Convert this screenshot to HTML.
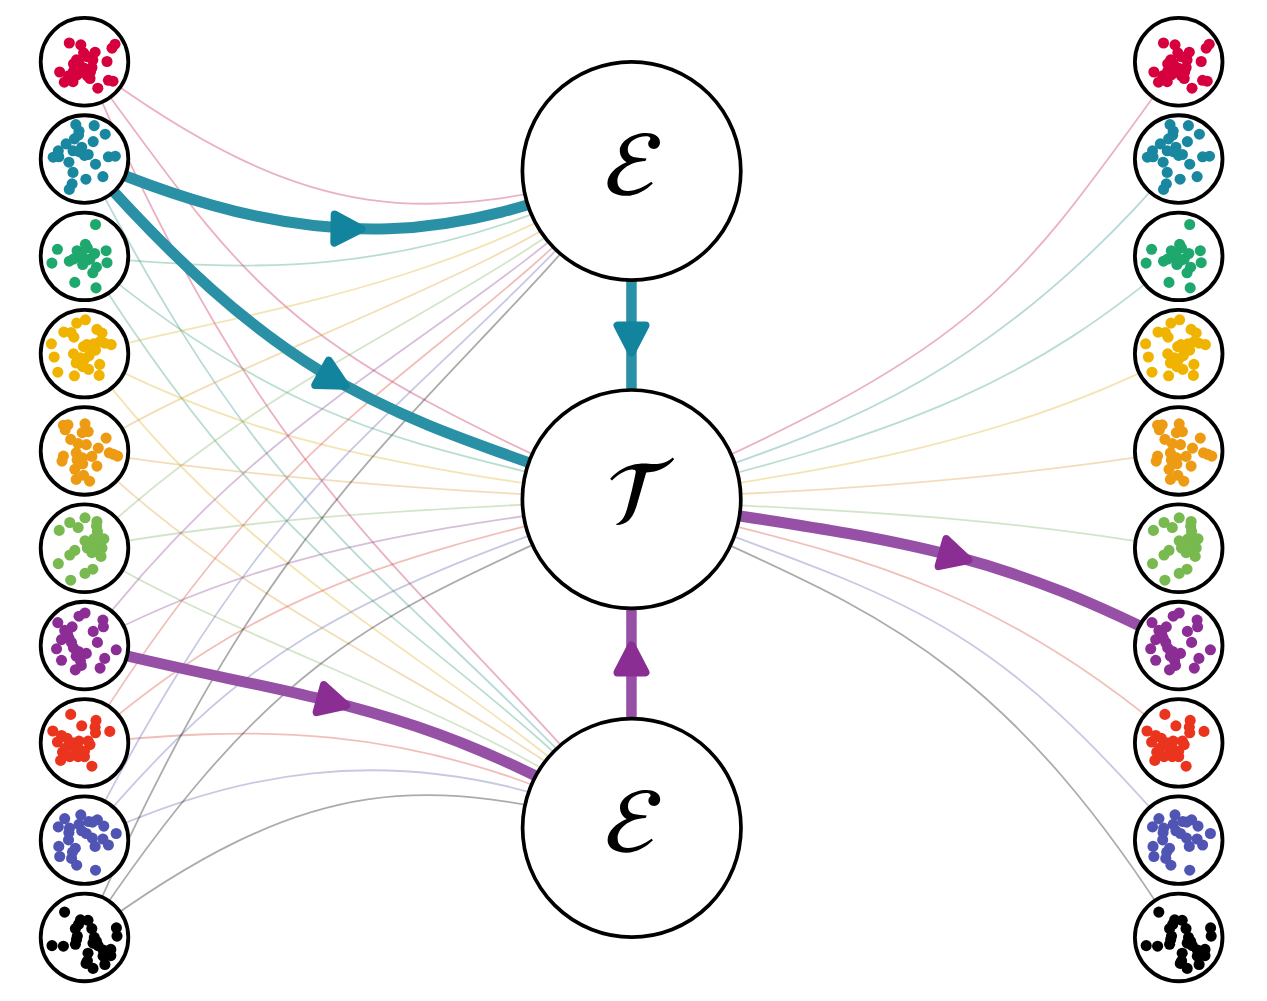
<!DOCTYPE html>
<html><head><meta charset="utf-8"><style>
html,body{margin:0;padding:0;background:#fff;width:1267px;height:1001px;overflow:hidden;font-family:"Liberation Sans",sans-serif;}
svg{display:block;}
</style></head><body>
<svg width="1267" height="1001" viewBox="0 0 1267 1001"><rect width="1267" height="1001" fill="#fff"/><g fill="none" stroke-width="1.8" stroke-opacity="0.33"><path d="M84.5,61.8 C314.8,232.9 426.8,221.7 631.6,171.0" stroke="#c01144"/><path d="M84.5,61.8 C276.3,511.3 422.9,572.8 631.8,827.9" stroke="#c01144"/><path d="M84.5,61.8 C255.5,295.7 276.7,342.6 631.6,499.2" stroke="#c01144"/><path d="M631.6,499.2 C986.5,344.1 1010.7,294.1 1178.7,61.8" stroke="#c01144"/><path d="M84.5,159.1 C284.7,546.8 378.0,552.2 631.8,827.9" stroke="#288c88"/><path d="M631.6,499.2 C801.7,437.6 975.5,400.3 1178.7,159.1" stroke="#288c88"/><path d="M84.5,256.4 C232.0,269.2 401.9,286.3 631.6,171.0" stroke="#2b9c6d"/><path d="M84.5,256.4 C302.0,603.2 424.1,612.6 631.8,827.9" stroke="#2b9c6d"/><path d="M84.5,256.4 C306.8,443.1 435.0,443.2 631.6,499.2" stroke="#2b9c6d"/><path d="M631.6,499.2 C916.0,431.8 1034.7,378.5 1178.7,256.4" stroke="#2b9c6d"/><path d="M84.5,353.6 C231.5,314.2 434.5,293.5 631.6,171.0" stroke="#dead19"/><path d="M84.5,353.6 C265.1,593.2 441.3,651.5 631.8,827.9" stroke="#dead19"/><path d="M84.5,353.6 C264.0,445.3 383.5,463.0 631.6,499.2" stroke="#dead19"/><path d="M631.6,499.2 C837.6,469.3 1015.5,439.8 1178.7,353.6" stroke="#dead19"/><path d="M84.5,450.9 C234.5,356.6 496.5,280.7 631.6,171.0" stroke="#dc9829"/><path d="M84.5,450.9 C273.2,633.1 485.0,696.6 631.8,827.9" stroke="#dc9829"/><path d="M84.5,450.9 C218.5,474.3 460.3,493.1 631.6,499.2" stroke="#dc9829"/><path d="M631.6,499.2 C797.5,491.9 974.7,483.6 1178.7,450.9" stroke="#dc9829"/><path d="M84.5,548.2 C273.2,365.9 485.0,302.4 631.6,171.0" stroke="#7aaf59"/><path d="M84.5,548.2 C234.5,642.4 496.5,718.3 631.8,827.9" stroke="#7aaf59"/><path d="M84.5,548.2 C279.4,512.1 477.5,507.9 631.6,499.2" stroke="#7aaf59"/><path d="M631.6,499.2 C814.5,510.8 963.6,511.2 1178.7,548.2" stroke="#7aaf59"/><path d="M84.5,645.5 C265.1,405.8 441.3,347.5 631.6,171.0" stroke="#87398f"/><path d="M84.5,645.5 C293.8,533.6 481.0,526.5 631.6,499.2" stroke="#87398f"/><path d="M84.5,742.9 C302.0,395.8 424.1,386.4 631.6,171.0" stroke="#d43e2c"/><path d="M84.5,742.9 C232.0,729.8 401.9,712.7 631.8,827.9" stroke="#d43e2c"/><path d="M84.5,742.9 C267.8,584.7 394.1,559.3 631.6,499.2" stroke="#d43e2c"/><path d="M631.6,499.2 C796.8,546.7 968.8,561.3 1178.7,742.9" stroke="#d43e2c"/><path d="M84.5,840.1 C284.7,452.2 378.0,446.8 631.6,171.0" stroke="#565aa8"/><path d="M84.5,840.1 C210.7,785.0 384.0,721.1 631.8,827.9" stroke="#565aa8"/><path d="M84.5,840.1 C244.3,650.6 334.3,601.8 631.6,499.2" stroke="#565aa8"/><path d="M631.6,499.2 C922.9,605.8 985.1,617.5 1178.7,840.1" stroke="#565aa8"/><path d="M84.5,937.4 C276.3,487.7 422.9,426.2 631.6,171.0" stroke="#000000"/><path d="M84.5,937.4 C314.8,766.1 426.8,777.3 631.8,827.9" stroke="#000000"/><path d="M84.5,937.4 C283.7,636.5 389.4,612.9 631.6,499.2" stroke="#000000"/><path d="M631.6,499.2 C848.0,605.7 984.8,628.2 1178.7,937.4" stroke="#000000"/></g><path d="M84.5,159.1 C357.6,277.3 482.6,220.7 631.6,171.0" fill="none" stroke="#2a90a6" stroke-width="11"/><path d="M84.5,159.1 C299.4,403.5 398.1,413.8 631.6,499.2" fill="none" stroke="#2a90a6" stroke-width="11"/><path d="M84.5,645.5 C295.8,699.8 410.2,696.2 631.8,827.9" fill="none" stroke="#9650a6" stroke-width="11"/><path d="M1178.7,645.5 C982.5,544.3 888.9,539.9 631.6,499.2" fill="none" stroke="#9650a6" stroke-width="11"/><polygon points="361.5,229.0 334.3,242.6 334.7,214.6" fill="#13849d" stroke="#13849d" stroke-width="8" stroke-linejoin="round"/><polygon points="345.7,385.8 315.2,385.1 328.7,360.6" fill="#13849d" stroke="#13849d" stroke-width="8" stroke-linejoin="round"/><polygon points="346.3,705.5 316.6,712.1 323.9,685.1" fill="#8a2e93" stroke="#8a2e93" stroke-width="8" stroke-linejoin="round"/><polygon points="968.4,560.0 938.6,566.1 946.3,539.2" fill="#8a2e93" stroke="#8a2e93" stroke-width="8" stroke-linejoin="round"/><rect x="626.2" y="270" width="10.5" height="130" fill="#2a90a6"/><rect x="626.2" y="600" width="10.5" height="130" fill="#9650a6"/><polygon points="631.5,352.5 617.5,325.5 645.5,325.5" fill="#13849d" stroke="#13849d" stroke-width="8" stroke-linejoin="round"/><polygon points="631.5,645.4 645.5,672.4 617.5,672.4" fill="#8a2e93" stroke="#8a2e93" stroke-width="8" stroke-linejoin="round"/><circle cx="631.6" cy="171.0" r="109.2" fill="#fff" stroke="#000" stroke-width="3.7"/><path transform="translate(595.0,125.0) scale(0.08)" d="M735,300 C790,300 815,250 812,210 C808,140 730,100 640,100 C480,100 310,200 310,320 C310,390 350,440 395,465 C260,520 155,620 155,730 C155,830 260,885 390,885 C520,885 640,810 722,730 L705,710 C620,770 510,825 410,825 C320,825 280,770 280,700 C280,580 420,460 630,450 L645,420 C600,415 530,410 480,400 C420,380 410,340 410,300 C410,210 520,140 640,140 C680,140 700,160 690,180 C670,200 665,215 665,235 C665,275 700,300 735,300 Z" fill="#000"/><circle cx="631.6" cy="499.2" r="109.2" fill="#fff" stroke="#000" stroke-width="3.7"/><path transform="translate(595.0,450.0) scale(0.0799)" d="M190,360 C280,260 400,185 560,172 C640,165 700,180 780,175 C860,170 920,140 975,95 L990,115 C920,200 820,260 700,275 C670,278 650,280 640,285 C600,420 560,570 520,700 C470,860 400,935 270,940 L265,925 C330,900 370,840 400,740 C440,600 480,440 510,280 C515,252 495,242 455,244 C365,257 285,312 212,382 Z" fill="#000"/><circle cx="631.8" cy="827.9" r="109.2" fill="#fff" stroke="#000" stroke-width="3.7"/><path transform="translate(595.2,781.9) scale(0.08)" d="M735,300 C790,300 815,250 812,210 C808,140 730,100 640,100 C480,100 310,200 310,320 C310,390 350,440 395,465 C260,520 155,620 155,730 C155,830 260,885 390,885 C520,885 640,810 722,730 L705,710 C620,770 510,825 410,825 C320,825 280,770 280,700 C280,580 420,460 630,450 L645,420 C600,415 530,410 480,400 C420,380 410,340 410,300 C410,210 520,140 640,140 C680,140 700,160 690,180 C670,200 665,215 665,235 C665,275 700,300 735,300 Z" fill="#000"/><circle cx="84.5" cy="61.75" r="43.8" fill="#fff" stroke="#000" stroke-width="3.8"/><g fill="#d6003f"><circle cx="69.3" cy="43.0" r="5.55"/><circle cx="80.8" cy="44.9" r="5.55"/><circle cx="83.6" cy="52.8" r="5.55"/><circle cx="95.1" cy="52.2" r="5.55"/><circle cx="112.0" cy="48.2" r="5.55"/><circle cx="115.0" cy="44.2" r="5.55"/><circle cx="107.0" cy="61.5" r="5.55"/><circle cx="73.5" cy="63.8" r="5.55"/><circle cx="79.0" cy="62.9" r="5.55"/><circle cx="92.8" cy="60.0" r="5.55"/><circle cx="91.9" cy="67.5" r="5.55"/><circle cx="59.7" cy="72.0" r="5.55"/><circle cx="64.3" cy="82.2" r="5.55"/><circle cx="73.0" cy="81.7" r="5.55"/><circle cx="77.1" cy="74.8" r="5.55"/><circle cx="87.3" cy="75.8" r="5.55"/><circle cx="90.0" cy="78.5" r="5.55"/><circle cx="97.8" cy="88.2" r="5.55"/><circle cx="108.4" cy="80.3" r="5.55"/><circle cx="113.0" cy="81.2" r="5.55"/><circle cx="73.5" cy="71.2" r="5.55"/><circle cx="84.5" cy="68.3" r="5.55"/><circle cx="76.5" cy="59.8" r="5.55"/><circle cx="87.5" cy="56.8" r="5.55"/><circle cx="81.5" cy="71.8" r="5.55"/><circle cx="90.5" cy="71.8" r="5.55"/><circle cx="68.5" cy="75.8" r="5.55"/></g><circle cx="84.5" cy="159.05" r="43.8" fill="#fff" stroke="#000" stroke-width="3.8"/><g fill="#18879f"><circle cx="75.8" cy="124.6" r="5.55"/><circle cx="79.0" cy="131.1" r="5.55"/><circle cx="94.2" cy="125.6" r="5.55"/><circle cx="105.2" cy="134.2" r="5.55"/><circle cx="74.4" cy="138.9" r="5.55"/><circle cx="93.2" cy="141.6" r="5.55"/><circle cx="66.1" cy="143.9" r="5.55"/><circle cx="58.3" cy="150.8" r="5.55"/><circle cx="53.2" cy="157.2" r="5.55"/><circle cx="58.8" cy="156.8" r="5.55"/><circle cx="73.0" cy="150.8" r="5.55"/><circle cx="81.7" cy="147.2" r="5.55"/><circle cx="84.5" cy="155.4" r="5.55"/><circle cx="88.2" cy="154.5" r="5.55"/><circle cx="108.4" cy="156.8" r="5.55"/><circle cx="115.3" cy="156.2" r="5.55"/><circle cx="68.9" cy="162.2" r="5.55"/><circle cx="95.5" cy="164.2" r="5.55"/><circle cx="73.0" cy="172.4" r="5.55"/><circle cx="85.9" cy="179.2" r="5.55"/><circle cx="102.9" cy="176.6" r="5.55"/><circle cx="72.1" cy="183.9" r="5.55"/><circle cx="69.3" cy="189.4" r="5.55"/><circle cx="79.0" cy="151.7" r="5.55"/><circle cx="78.5" cy="135.1" r="5.55"/></g><circle cx="84.5" cy="256.35" r="43.8" fill="#fff" stroke="#000" stroke-width="3.8"/><g fill="#1ea86e"><circle cx="95.5" cy="224.5" r="5.55"/><circle cx="57.4" cy="249.3" r="5.55"/><circle cx="51.9" cy="263.1" r="5.55"/><circle cx="69.3" cy="261.2" r="5.55"/><circle cx="77.1" cy="250.7" r="5.55"/><circle cx="85.4" cy="244.3" r="5.55"/><circle cx="87.3" cy="247.9" r="5.55"/><circle cx="82.7" cy="264.5" r="5.55"/><circle cx="79.9" cy="257.1" r="5.55"/><circle cx="94.6" cy="253.5" r="5.55"/><circle cx="90.0" cy="259.0" r="5.55"/><circle cx="106.1" cy="250.7" r="5.55"/><circle cx="107.0" cy="262.7" r="5.55"/><circle cx="96.4" cy="267.2" r="5.55"/><circle cx="92.8" cy="272.8" r="5.55"/><circle cx="74.8" cy="282.4" r="5.55"/><circle cx="96.0" cy="287.9" r="5.55"/><circle cx="73.5" cy="259.0" r="5.55"/><circle cx="81.5" cy="254.4" r="5.55"/><circle cx="86.5" cy="260.4" r="5.55"/></g><circle cx="84.5" cy="353.65" r="43.8" fill="#fff" stroke="#000" stroke-width="3.8"/><g fill="#f0b400"><circle cx="85.4" cy="319.8" r="5.55"/><circle cx="76.7" cy="323.1" r="5.55"/><circle cx="63.8" cy="332.1" r="5.55"/><circle cx="71.2" cy="332.6" r="5.55"/><circle cx="73.9" cy="337.2" r="5.55"/><circle cx="96.9" cy="329.4" r="5.55"/><circle cx="102.0" cy="333.1" r="5.55"/><circle cx="51.4" cy="343.8" r="5.55"/><circle cx="86.8" cy="344.6" r="5.55"/><circle cx="93.7" cy="343.8" r="5.55"/><circle cx="99.7" cy="341.8" r="5.55"/><circle cx="111.2" cy="344.6" r="5.55"/><circle cx="95.5" cy="350.1" r="5.55"/><circle cx="89.1" cy="355.6" r="5.55"/><circle cx="73.5" cy="353.8" r="5.55"/><circle cx="54.2" cy="357.0" r="5.55"/><circle cx="76.2" cy="363.0" r="5.55"/><circle cx="82.7" cy="366.6" r="5.55"/><circle cx="88.6" cy="369.4" r="5.55"/><circle cx="99.7" cy="364.4" r="5.55"/><circle cx="99.2" cy="375.4" r="5.55"/><circle cx="57.8" cy="372.2" r="5.55"/><circle cx="74.4" cy="375.8" r="5.55"/><circle cx="90.5" cy="349.6" r="5.55"/><circle cx="83.5" cy="346.6" r="5.55"/><circle cx="104.7" cy="343.2" r="5.55"/><circle cx="84.5" cy="359.3" r="5.55"/><circle cx="80.4" cy="357.9" r="5.55"/></g><circle cx="84.5" cy="450.95" r="43.8" fill="#fff" stroke="#000" stroke-width="3.8"/><g fill="#ee9b14"><circle cx="63.4" cy="425.2" r="5.55"/><circle cx="68.0" cy="424.8" r="5.55"/><circle cx="65.2" cy="429.8" r="5.55"/><circle cx="85.0" cy="423.8" r="5.55"/><circle cx="82.2" cy="432.6" r="5.55"/><circle cx="88.2" cy="431.6" r="5.55"/><circle cx="70.7" cy="439.4" r="5.55"/><circle cx="78.1" cy="443.6" r="5.55"/><circle cx="86.3" cy="444.6" r="5.55"/><circle cx="106.1" cy="438.1" r="5.55"/><circle cx="98.3" cy="448.1" r="5.55"/><circle cx="109.3" cy="452.8" r="5.55"/><circle cx="117.6" cy="456.1" r="5.55"/><circle cx="76.2" cy="452.8" r="5.55"/><circle cx="91.9" cy="456.4" r="5.55"/><circle cx="63.4" cy="456.1" r="5.55"/><circle cx="62.0" cy="461.1" r="5.55"/><circle cx="77.1" cy="460.1" r="5.55"/><circle cx="82.7" cy="463.8" r="5.55"/><circle cx="96.9" cy="466.1" r="5.55"/><circle cx="74.8" cy="469.3" r="5.55"/><circle cx="76.2" cy="479.4" r="5.55"/><circle cx="83.6" cy="475.3" r="5.55"/><circle cx="89.6" cy="481.2" r="5.55"/><circle cx="113.5" cy="454.4" r="5.55"/><circle cx="82.5" cy="457.9" r="5.55"/></g><circle cx="84.5" cy="548.25" r="43.8" fill="#fff" stroke="#000" stroke-width="3.8"/><g fill="#78b950"><circle cx="85.0" cy="517.8" r="5.55"/><circle cx="96.9" cy="521.5" r="5.55"/><circle cx="69.8" cy="522.5" r="5.55"/><circle cx="78.1" cy="527.5" r="5.55"/><circle cx="59.2" cy="530.4" r="5.55"/><circle cx="97.4" cy="531.5" r="5.55"/><circle cx="103.8" cy="538.9" r="5.55"/><circle cx="85.0" cy="540.8" r="5.55"/><circle cx="93.7" cy="538.9" r="5.55"/><circle cx="97.4" cy="543.5" r="5.55"/><circle cx="87.3" cy="548.0" r="5.55"/><circle cx="102.0" cy="548.0" r="5.55"/><circle cx="91.9" cy="552.6" r="5.55"/><circle cx="101.0" cy="556.4" r="5.55"/><circle cx="74.8" cy="550.4" r="5.55"/><circle cx="69.8" cy="555.0" r="5.55"/><circle cx="58.3" cy="563.6" r="5.55"/><circle cx="92.8" cy="569.2" r="5.55"/><circle cx="85.0" cy="573.4" r="5.55"/><circle cx="70.7" cy="580.2" r="5.55"/><circle cx="90.0" cy="543.5" r="5.55"/><circle cx="96.5" cy="526.2" r="5.55"/><circle cx="98.5" cy="550.2" r="5.55"/><circle cx="94.5" cy="548.2" r="5.55"/></g><circle cx="84.5" cy="645.55" r="43.8" fill="#fff" stroke="#000" stroke-width="3.8"/><g fill="#8c2d96"><circle cx="79.0" cy="616.2" r="5.55"/><circle cx="85.0" cy="613.0" r="5.55"/><circle cx="57.8" cy="622.6" r="5.55"/><circle cx="72.1" cy="626.8" r="5.55"/><circle cx="64.7" cy="630.4" r="5.55"/><circle cx="102.9" cy="620.1" r="5.55"/><circle cx="103.4" cy="626.8" r="5.55"/><circle cx="93.2" cy="631.4" r="5.55"/><circle cx="68.9" cy="637.8" r="5.55"/><circle cx="61.5" cy="639.6" r="5.55"/><circle cx="56.5" cy="648.8" r="5.55"/><circle cx="97.4" cy="642.4" r="5.55"/><circle cx="73.5" cy="647.9" r="5.55"/><circle cx="86.3" cy="653.4" r="5.55"/><circle cx="116.2" cy="649.8" r="5.55"/><circle cx="76.2" cy="656.2" r="5.55"/><circle cx="61.5" cy="660.3" r="5.55"/><circle cx="104.7" cy="658.4" r="5.55"/><circle cx="81.3" cy="665.4" r="5.55"/><circle cx="75.3" cy="669.9" r="5.55"/><circle cx="100.1" cy="668.1" r="5.55"/><circle cx="80.4" cy="660.6" r="5.55"/><circle cx="67.5" cy="633.5" r="5.55"/><circle cx="71.5" cy="642.5" r="5.55"/><circle cx="78.5" cy="651.5" r="5.55"/></g><circle cx="84.5" cy="742.85" r="43.8" fill="#fff" stroke="#000" stroke-width="3.8"/><g fill="#eb341e"><circle cx="70.7" cy="714.4" r="5.55"/><circle cx="96.0" cy="720.4" r="5.55"/><circle cx="81.7" cy="725.8" r="5.55"/><circle cx="95.1" cy="727.2" r="5.55"/><circle cx="95.5" cy="732.8" r="5.55"/><circle cx="109.8" cy="731.4" r="5.55"/><circle cx="52.8" cy="731.0" r="5.55"/><circle cx="61.5" cy="735.5" r="5.55"/><circle cx="67.0" cy="738.2" r="5.55"/><circle cx="57.4" cy="742.0" r="5.55"/><circle cx="79.0" cy="741.1" r="5.55"/><circle cx="88.2" cy="741.1" r="5.55"/><circle cx="90.0" cy="744.6" r="5.55"/><circle cx="65.2" cy="748.4" r="5.55"/><circle cx="75.3" cy="748.4" r="5.55"/><circle cx="84.5" cy="751.1" r="5.55"/><circle cx="60.6" cy="760.4" r="5.55"/><circle cx="69.8" cy="756.6" r="5.55"/><circle cx="78.1" cy="756.6" r="5.55"/><circle cx="84.5" cy="756.6" r="5.55"/><circle cx="91.9" cy="766.2" r="5.55"/><circle cx="62.5" cy="752.1" r="5.55"/><circle cx="72.5" cy="742.9" r="5.55"/><circle cx="78.5" cy="748.9" r="5.55"/></g><circle cx="84.5" cy="840.15" r="43.8" fill="#fff" stroke="#000" stroke-width="3.8"/><g fill="#5055b4"><circle cx="64.7" cy="818.6" r="5.55"/><circle cx="58.3" cy="826.9" r="5.55"/><circle cx="80.8" cy="814.8" r="5.55"/><circle cx="79.0" cy="824.4" r="5.55"/><circle cx="88.6" cy="821.5" r="5.55"/><circle cx="97.4" cy="819.8" r="5.55"/><circle cx="103.8" cy="826.1" r="5.55"/><circle cx="68.9" cy="832.6" r="5.55"/><circle cx="86.3" cy="833.5" r="5.55"/><circle cx="92.3" cy="838.1" r="5.55"/><circle cx="116.2" cy="833.5" r="5.55"/><circle cx="102.9" cy="839.0" r="5.55"/><circle cx="108.4" cy="845.0" r="5.55"/><circle cx="95.1" cy="846.4" r="5.55"/><circle cx="68.5" cy="839.9" r="5.55"/><circle cx="58.8" cy="846.4" r="5.55"/><circle cx="75.3" cy="848.2" r="5.55"/><circle cx="59.7" cy="856.5" r="5.55"/><circle cx="71.6" cy="858.4" r="5.55"/><circle cx="76.7" cy="865.2" r="5.55"/><circle cx="95.5" cy="870.2" r="5.55"/><circle cx="81.7" cy="830.8" r="5.55"/><circle cx="69.5" cy="828.1" r="5.55"/><circle cx="72.5" cy="852.1" r="5.55"/><circle cx="92.5" cy="822.1" r="5.55"/></g><circle cx="84.5" cy="937.45" r="43.8" fill="#fff" stroke="#000" stroke-width="3.8"/><g fill="#000000"><circle cx="64.6" cy="912.1" r="5.55"/><circle cx="80.5" cy="919.8" r="5.55"/><circle cx="88.0" cy="920.3" r="5.55"/><circle cx="75.4" cy="928.6" r="5.55"/><circle cx="91.8" cy="928.6" r="5.55"/><circle cx="77.3" cy="936.1" r="5.55"/><circle cx="94.3" cy="937.4" r="5.55"/><circle cx="116.4" cy="927.9" r="5.55"/><circle cx="117.0" cy="936.1" r="5.55"/><circle cx="52.0" cy="945.6" r="5.55"/><circle cx="63.4" cy="946.2" r="5.55"/><circle cx="75.4" cy="944.3" r="5.55"/><circle cx="98.1" cy="945.6" r="5.55"/><circle cx="103.1" cy="950.0" r="5.55"/><circle cx="110.8" cy="949.4" r="5.55"/><circle cx="88.0" cy="953.2" r="5.55"/><circle cx="87.4" cy="960.8" r="5.55"/><circle cx="103.1" cy="956.2" r="5.55"/><circle cx="110.8" cy="955.6" r="5.55"/><circle cx="86.1" cy="963.4" r="5.55"/><circle cx="93.0" cy="968.4" r="5.55"/><circle cx="104.9" cy="964.5" r="5.55"/><circle cx="93.0" cy="943.1" r="5.55"/><circle cx="78.5" cy="924.4" r="5.55"/><circle cx="96.5" cy="941.4" r="5.55"/><circle cx="76.5" cy="939.4" r="5.55"/></g><circle cx="1178.7" cy="61.75" r="43.8" fill="#fff" stroke="#000" stroke-width="3.8"/><g fill="#d6003f"><circle cx="1163.5" cy="43.0" r="5.55"/><circle cx="1175.0" cy="44.9" r="5.55"/><circle cx="1177.8" cy="52.8" r="5.55"/><circle cx="1189.3" cy="52.2" r="5.55"/><circle cx="1206.2" cy="48.2" r="5.55"/><circle cx="1209.2" cy="44.2" r="5.55"/><circle cx="1201.2" cy="61.5" r="5.55"/><circle cx="1167.7" cy="63.8" r="5.55"/><circle cx="1173.2" cy="62.9" r="5.55"/><circle cx="1187.0" cy="60.0" r="5.55"/><circle cx="1186.1" cy="67.5" r="5.55"/><circle cx="1153.9" cy="72.0" r="5.55"/><circle cx="1158.5" cy="82.2" r="5.55"/><circle cx="1167.2" cy="81.7" r="5.55"/><circle cx="1171.3" cy="74.8" r="5.55"/><circle cx="1181.5" cy="75.8" r="5.55"/><circle cx="1184.2" cy="78.5" r="5.55"/><circle cx="1192.0" cy="88.2" r="5.55"/><circle cx="1202.6" cy="80.3" r="5.55"/><circle cx="1207.2" cy="81.2" r="5.55"/><circle cx="1167.7" cy="71.2" r="5.55"/><circle cx="1178.7" cy="68.3" r="5.55"/><circle cx="1170.7" cy="59.8" r="5.55"/><circle cx="1181.7" cy="56.8" r="5.55"/><circle cx="1175.7" cy="71.8" r="5.55"/><circle cx="1184.7" cy="71.8" r="5.55"/><circle cx="1162.7" cy="75.8" r="5.55"/></g><circle cx="1178.7" cy="159.05" r="43.8" fill="#fff" stroke="#000" stroke-width="3.8"/><g fill="#18879f"><circle cx="1170.0" cy="124.6" r="5.55"/><circle cx="1173.2" cy="131.1" r="5.55"/><circle cx="1188.4" cy="125.6" r="5.55"/><circle cx="1199.4" cy="134.2" r="5.55"/><circle cx="1168.6" cy="138.9" r="5.55"/><circle cx="1187.4" cy="141.6" r="5.55"/><circle cx="1160.3" cy="143.9" r="5.55"/><circle cx="1152.5" cy="150.8" r="5.55"/><circle cx="1147.4" cy="157.2" r="5.55"/><circle cx="1153.0" cy="156.8" r="5.55"/><circle cx="1167.2" cy="150.8" r="5.55"/><circle cx="1175.9" cy="147.2" r="5.55"/><circle cx="1178.7" cy="155.4" r="5.55"/><circle cx="1182.4" cy="154.5" r="5.55"/><circle cx="1202.6" cy="156.8" r="5.55"/><circle cx="1209.5" cy="156.2" r="5.55"/><circle cx="1163.1" cy="162.2" r="5.55"/><circle cx="1189.7" cy="164.2" r="5.55"/><circle cx="1167.2" cy="172.4" r="5.55"/><circle cx="1180.1" cy="179.2" r="5.55"/><circle cx="1197.1" cy="176.6" r="5.55"/><circle cx="1166.3" cy="183.9" r="5.55"/><circle cx="1163.5" cy="189.4" r="5.55"/><circle cx="1173.2" cy="151.7" r="5.55"/><circle cx="1172.7" cy="135.1" r="5.55"/></g><circle cx="1178.7" cy="256.35" r="43.8" fill="#fff" stroke="#000" stroke-width="3.8"/><g fill="#1ea86e"><circle cx="1189.7" cy="224.5" r="5.55"/><circle cx="1151.6" cy="249.3" r="5.55"/><circle cx="1146.1" cy="263.1" r="5.55"/><circle cx="1163.5" cy="261.2" r="5.55"/><circle cx="1171.3" cy="250.7" r="5.55"/><circle cx="1179.6" cy="244.3" r="5.55"/><circle cx="1181.5" cy="247.9" r="5.55"/><circle cx="1176.9" cy="264.5" r="5.55"/><circle cx="1174.1" cy="257.1" r="5.55"/><circle cx="1188.8" cy="253.5" r="5.55"/><circle cx="1184.2" cy="259.0" r="5.55"/><circle cx="1200.3" cy="250.7" r="5.55"/><circle cx="1201.2" cy="262.7" r="5.55"/><circle cx="1190.6" cy="267.2" r="5.55"/><circle cx="1187.0" cy="272.8" r="5.55"/><circle cx="1169.0" cy="282.4" r="5.55"/><circle cx="1190.2" cy="287.9" r="5.55"/><circle cx="1167.7" cy="259.0" r="5.55"/><circle cx="1175.7" cy="254.4" r="5.55"/><circle cx="1180.7" cy="260.4" r="5.55"/></g><circle cx="1178.7" cy="353.65" r="43.8" fill="#fff" stroke="#000" stroke-width="3.8"/><g fill="#f0b400"><circle cx="1179.6" cy="319.8" r="5.55"/><circle cx="1170.9" cy="323.1" r="5.55"/><circle cx="1158.0" cy="332.1" r="5.55"/><circle cx="1165.4" cy="332.6" r="5.55"/><circle cx="1168.1" cy="337.2" r="5.55"/><circle cx="1191.1" cy="329.4" r="5.55"/><circle cx="1196.2" cy="333.1" r="5.55"/><circle cx="1145.6" cy="343.8" r="5.55"/><circle cx="1181.0" cy="344.6" r="5.55"/><circle cx="1187.9" cy="343.8" r="5.55"/><circle cx="1193.9" cy="341.8" r="5.55"/><circle cx="1205.4" cy="344.6" r="5.55"/><circle cx="1189.7" cy="350.1" r="5.55"/><circle cx="1183.3" cy="355.6" r="5.55"/><circle cx="1167.7" cy="353.8" r="5.55"/><circle cx="1148.4" cy="357.0" r="5.55"/><circle cx="1170.4" cy="363.0" r="5.55"/><circle cx="1176.9" cy="366.6" r="5.55"/><circle cx="1182.8" cy="369.4" r="5.55"/><circle cx="1193.9" cy="364.4" r="5.55"/><circle cx="1193.4" cy="375.4" r="5.55"/><circle cx="1152.0" cy="372.2" r="5.55"/><circle cx="1168.6" cy="375.8" r="5.55"/><circle cx="1184.7" cy="349.6" r="5.55"/><circle cx="1177.7" cy="346.6" r="5.55"/><circle cx="1198.9" cy="343.2" r="5.55"/><circle cx="1178.7" cy="359.3" r="5.55"/><circle cx="1174.6" cy="357.9" r="5.55"/></g><circle cx="1178.7" cy="450.95" r="43.8" fill="#fff" stroke="#000" stroke-width="3.8"/><g fill="#ee9b14"><circle cx="1157.6" cy="425.2" r="5.55"/><circle cx="1162.2" cy="424.8" r="5.55"/><circle cx="1159.4" cy="429.8" r="5.55"/><circle cx="1179.2" cy="423.8" r="5.55"/><circle cx="1176.4" cy="432.6" r="5.55"/><circle cx="1182.4" cy="431.6" r="5.55"/><circle cx="1164.9" cy="439.4" r="5.55"/><circle cx="1172.3" cy="443.6" r="5.55"/><circle cx="1180.5" cy="444.6" r="5.55"/><circle cx="1200.3" cy="438.1" r="5.55"/><circle cx="1192.5" cy="448.1" r="5.55"/><circle cx="1203.5" cy="452.8" r="5.55"/><circle cx="1211.8" cy="456.1" r="5.55"/><circle cx="1170.4" cy="452.8" r="5.55"/><circle cx="1186.1" cy="456.4" r="5.55"/><circle cx="1157.6" cy="456.1" r="5.55"/><circle cx="1156.2" cy="461.1" r="5.55"/><circle cx="1171.3" cy="460.1" r="5.55"/><circle cx="1176.9" cy="463.8" r="5.55"/><circle cx="1191.1" cy="466.1" r="5.55"/><circle cx="1169.0" cy="469.3" r="5.55"/><circle cx="1170.4" cy="479.4" r="5.55"/><circle cx="1177.8" cy="475.3" r="5.55"/><circle cx="1183.8" cy="481.2" r="5.55"/><circle cx="1207.7" cy="454.4" r="5.55"/><circle cx="1176.7" cy="457.9" r="5.55"/></g><circle cx="1178.7" cy="548.25" r="43.8" fill="#fff" stroke="#000" stroke-width="3.8"/><g fill="#78b950"><circle cx="1179.2" cy="517.8" r="5.55"/><circle cx="1191.1" cy="521.5" r="5.55"/><circle cx="1164.0" cy="522.5" r="5.55"/><circle cx="1172.3" cy="527.5" r="5.55"/><circle cx="1153.4" cy="530.4" r="5.55"/><circle cx="1191.6" cy="531.5" r="5.55"/><circle cx="1198.0" cy="538.9" r="5.55"/><circle cx="1179.2" cy="540.8" r="5.55"/><circle cx="1187.9" cy="538.9" r="5.55"/><circle cx="1191.6" cy="543.5" r="5.55"/><circle cx="1181.5" cy="548.0" r="5.55"/><circle cx="1196.2" cy="548.0" r="5.55"/><circle cx="1186.1" cy="552.6" r="5.55"/><circle cx="1195.2" cy="556.4" r="5.55"/><circle cx="1169.0" cy="550.4" r="5.55"/><circle cx="1164.0" cy="555.0" r="5.55"/><circle cx="1152.5" cy="563.6" r="5.55"/><circle cx="1187.0" cy="569.2" r="5.55"/><circle cx="1179.2" cy="573.4" r="5.55"/><circle cx="1164.9" cy="580.2" r="5.55"/><circle cx="1184.2" cy="543.5" r="5.55"/><circle cx="1190.7" cy="526.2" r="5.55"/><circle cx="1192.7" cy="550.2" r="5.55"/><circle cx="1188.7" cy="548.2" r="5.55"/></g><circle cx="1178.7" cy="645.55" r="43.8" fill="#fff" stroke="#000" stroke-width="3.8"/><g fill="#8c2d96"><circle cx="1173.2" cy="616.2" r="5.55"/><circle cx="1179.2" cy="613.0" r="5.55"/><circle cx="1152.0" cy="622.6" r="5.55"/><circle cx="1166.3" cy="626.8" r="5.55"/><circle cx="1158.9" cy="630.4" r="5.55"/><circle cx="1197.1" cy="620.1" r="5.55"/><circle cx="1197.6" cy="626.8" r="5.55"/><circle cx="1187.4" cy="631.4" r="5.55"/><circle cx="1163.1" cy="637.8" r="5.55"/><circle cx="1155.7" cy="639.6" r="5.55"/><circle cx="1150.7" cy="648.8" r="5.55"/><circle cx="1191.6" cy="642.4" r="5.55"/><circle cx="1167.7" cy="647.9" r="5.55"/><circle cx="1180.5" cy="653.4" r="5.55"/><circle cx="1210.4" cy="649.8" r="5.55"/><circle cx="1170.4" cy="656.2" r="5.55"/><circle cx="1155.7" cy="660.3" r="5.55"/><circle cx="1198.9" cy="658.4" r="5.55"/><circle cx="1175.5" cy="665.4" r="5.55"/><circle cx="1169.5" cy="669.9" r="5.55"/><circle cx="1194.3" cy="668.1" r="5.55"/><circle cx="1174.6" cy="660.6" r="5.55"/><circle cx="1161.7" cy="633.5" r="5.55"/><circle cx="1165.7" cy="642.5" r="5.55"/><circle cx="1172.7" cy="651.5" r="5.55"/></g><circle cx="1178.7" cy="742.85" r="43.8" fill="#fff" stroke="#000" stroke-width="3.8"/><g fill="#eb341e"><circle cx="1164.9" cy="714.4" r="5.55"/><circle cx="1190.2" cy="720.4" r="5.55"/><circle cx="1175.9" cy="725.8" r="5.55"/><circle cx="1189.3" cy="727.2" r="5.55"/><circle cx="1189.7" cy="732.8" r="5.55"/><circle cx="1204.0" cy="731.4" r="5.55"/><circle cx="1147.0" cy="731.0" r="5.55"/><circle cx="1155.7" cy="735.5" r="5.55"/><circle cx="1161.2" cy="738.2" r="5.55"/><circle cx="1151.6" cy="742.0" r="5.55"/><circle cx="1173.2" cy="741.1" r="5.55"/><circle cx="1182.4" cy="741.1" r="5.55"/><circle cx="1184.2" cy="744.6" r="5.55"/><circle cx="1159.4" cy="748.4" r="5.55"/><circle cx="1169.5" cy="748.4" r="5.55"/><circle cx="1178.7" cy="751.1" r="5.55"/><circle cx="1154.8" cy="760.4" r="5.55"/><circle cx="1164.0" cy="756.6" r="5.55"/><circle cx="1172.3" cy="756.6" r="5.55"/><circle cx="1178.7" cy="756.6" r="5.55"/><circle cx="1186.1" cy="766.2" r="5.55"/><circle cx="1156.7" cy="752.1" r="5.55"/><circle cx="1166.7" cy="742.9" r="5.55"/><circle cx="1172.7" cy="748.9" r="5.55"/></g><circle cx="1178.7" cy="840.15" r="43.8" fill="#fff" stroke="#000" stroke-width="3.8"/><g fill="#5055b4"><circle cx="1158.9" cy="818.6" r="5.55"/><circle cx="1152.5" cy="826.9" r="5.55"/><circle cx="1175.0" cy="814.8" r="5.55"/><circle cx="1173.2" cy="824.4" r="5.55"/><circle cx="1182.8" cy="821.5" r="5.55"/><circle cx="1191.6" cy="819.8" r="5.55"/><circle cx="1198.0" cy="826.1" r="5.55"/><circle cx="1163.1" cy="832.6" r="5.55"/><circle cx="1180.5" cy="833.5" r="5.55"/><circle cx="1186.5" cy="838.1" r="5.55"/><circle cx="1210.4" cy="833.5" r="5.55"/><circle cx="1197.1" cy="839.0" r="5.55"/><circle cx="1202.6" cy="845.0" r="5.55"/><circle cx="1189.3" cy="846.4" r="5.55"/><circle cx="1162.7" cy="839.9" r="5.55"/><circle cx="1153.0" cy="846.4" r="5.55"/><circle cx="1169.5" cy="848.2" r="5.55"/><circle cx="1153.9" cy="856.5" r="5.55"/><circle cx="1165.8" cy="858.4" r="5.55"/><circle cx="1170.9" cy="865.2" r="5.55"/><circle cx="1189.7" cy="870.2" r="5.55"/><circle cx="1175.9" cy="830.8" r="5.55"/><circle cx="1163.7" cy="828.1" r="5.55"/><circle cx="1166.7" cy="852.1" r="5.55"/><circle cx="1186.7" cy="822.1" r="5.55"/></g><circle cx="1178.7" cy="937.45" r="43.8" fill="#fff" stroke="#000" stroke-width="3.8"/><g fill="#000000"><circle cx="1158.8" cy="912.1" r="5.55"/><circle cx="1174.7" cy="919.8" r="5.55"/><circle cx="1182.2" cy="920.3" r="5.55"/><circle cx="1169.6" cy="928.6" r="5.55"/><circle cx="1186.0" cy="928.6" r="5.55"/><circle cx="1171.5" cy="936.1" r="5.55"/><circle cx="1188.5" cy="937.4" r="5.55"/><circle cx="1210.6" cy="927.9" r="5.55"/><circle cx="1211.2" cy="936.1" r="5.55"/><circle cx="1146.2" cy="945.6" r="5.55"/><circle cx="1157.6" cy="946.2" r="5.55"/><circle cx="1169.6" cy="944.3" r="5.55"/><circle cx="1192.3" cy="945.6" r="5.55"/><circle cx="1197.3" cy="950.0" r="5.55"/><circle cx="1205.0" cy="949.4" r="5.55"/><circle cx="1182.2" cy="953.2" r="5.55"/><circle cx="1181.6" cy="960.8" r="5.55"/><circle cx="1197.3" cy="956.2" r="5.55"/><circle cx="1205.0" cy="955.6" r="5.55"/><circle cx="1180.3" cy="963.4" r="5.55"/><circle cx="1187.2" cy="968.4" r="5.55"/><circle cx="1199.1" cy="964.5" r="5.55"/><circle cx="1187.2" cy="943.1" r="5.55"/><circle cx="1172.7" cy="924.4" r="5.55"/><circle cx="1190.7" cy="941.4" r="5.55"/><circle cx="1170.7" cy="939.4" r="5.55"/></g></svg>
</body></html>
